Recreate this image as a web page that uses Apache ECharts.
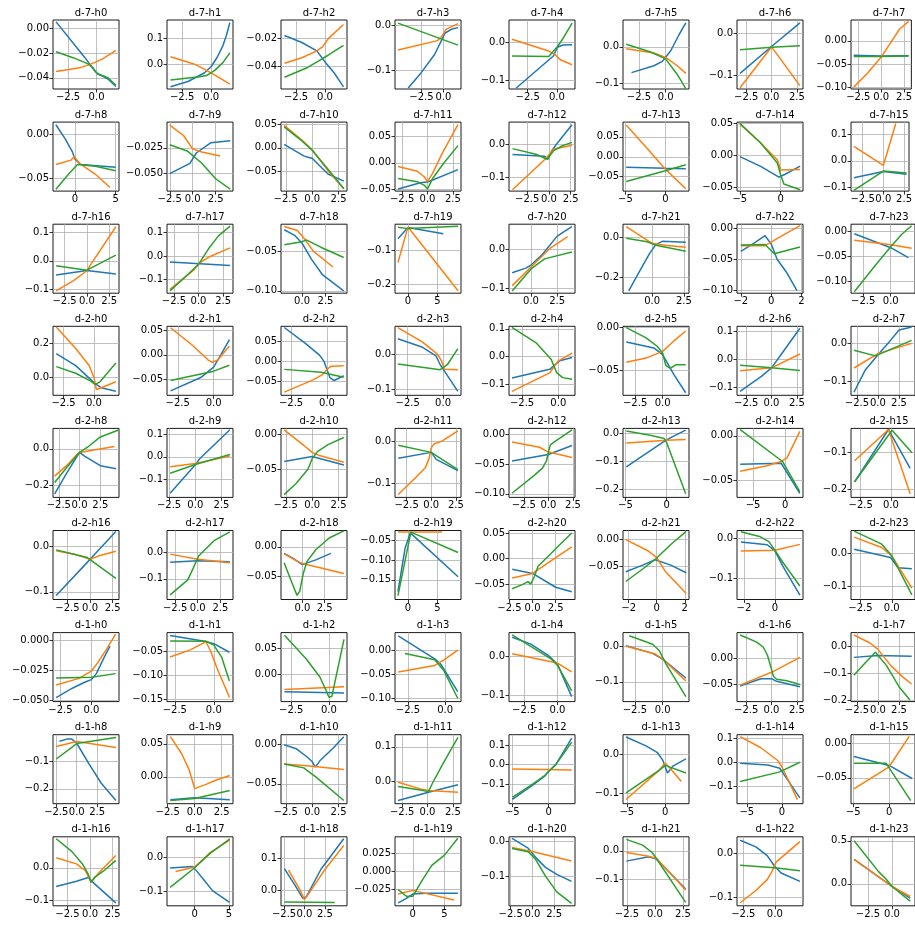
<!DOCTYPE html>
<html>
<head>
<meta charset="utf-8">
<script src="https://cdn.jsdelivr.net/npm/echarts@6/dist/echarts.min.js"></script>
<style>
  html, body { margin: 0; padding: 0; background: #fff; }
  #chart { width: 915px; height: 931px; }
</style>
</head>
<body>
<div id="chart"></div>
<script>
// Panel names: depth group x horizon (24 horizons per depth)
const depthGroups = ['d-7', 'd-2', 'd-1'];
const horizonCount = 24;

// Axis limits per panel [min, max]
const xLimits = [
  [-3.82,1.97],[-3.8,1.87],[-3.8,1.9],[-5.5,2.0],[-4.1,1.55],[-4.0,2.2],[-3.4,3.1],[-3.3,3.3],
  [-2.7,5.4],[-2.8,4.4],[-2.95,3.3],[-3.2,3.3],[-4.6,3.0],[-5.3,2.95],[-5.35,2.75],[-3.9,3.1],
  [-3.8,3.6],[-3.2,3.5],[-2.25,4.8],[-2.2,9.0],[-2.1,4.2],[-2.3,2.9],[-2.25,2.1],[-3.6,2.2],
  [-3.37,2.06],[-3.25,1.35],[-3.2,1.4],[-3.4,1.27],[-3.4,1.15],[-3.6,2.4],[-3.4,3.1],[-3.2,4.4],
  [-3.2,4.75],[-2.7,3.6],[-2.95,3.3],[-3.68,3.02],[-4.0,2.7],[-5.3,2.7],[-7.5,2.8],[-3.3,2.0],
  [-4.1,3.2],[-3.4,3.9],[-2.4,5.0],[-2.2,9.0],[-2.55,4.6],[-2.4,2.3],[-2.45,1.8],[-3.25,1.85],
  [-3.1,2.23],[-3.0,1.23],[-3.18,1.2],[-3.37,1.07],[-3.64,1.31],[-3.57,2.38],[-3.4,3.1],[-3.2,4.4],
  [-2.9,5.17],[-2.56,3.55],[-2.95,3.3],[-3.2,3.3],[-5.46,3.65],[-5.5,3.1],[-6.4,3.0],[-5.3,3.6],
  [-4.1,3.2],[-4.05,5.6],[-2.87,5.2],[-2.8,7.6],[-2.7,4.9],[-2.85,3.05],[-3.0,2.24],[-4.27,2.4]
];
const yLimits = [
  [-0.049,0.0065],[-0.097,0.17],[-0.0565,-0.0068],[-0.142,0.012],[-0.122,0.06],[-0.116,0.074],[-0.133,0.031],[-0.104,0.045],
  [-0.064,0.014],[-0.067,0.0],[-0.091,0.054],[-0.054,0.078],[-0.141,0.067],[-0.086,0.087],[-0.056,0.052],[-0.113,0.145],
  [-0.114,0.129],[-0.158,0.136],[-0.103,-0.016],[-0.225,-0.022],[-0.113,0.066],[-0.28,0.066],[-0.104,0.0064],[-0.123,0.015],
  [-0.104,0.3],[-0.082,0.058],[-0.085,0.088],[-0.116,0.078],[-0.141,0.109],[-0.08,0.0016],[-0.127,0.117],[-0.137,0.045],
  [-0.267,0.112],[-0.18,0.126],[-0.09,0.008],[-0.135,0.032],[-0.106,0.0096],[-0.228,0.016],[-0.0695,0.0083],[-0.223,-0.033],
  [-0.117,0.036],[-0.177,0.08],[-0.089,0.0276],[-0.2,-0.024],[-0.08,0.055],[-0.111,0.0156],[-0.154,0.02],[-0.139,0.068],
  [-0.0514,0.0063],[-0.155,-0.011],[-0.0525,0.081],[-0.107,0.038],[-0.117,0.062],[-0.156,0.04],[-0.082,0.0475],[-0.206,0.053],
  [-0.254,-0.004],[-0.041,0.064],[-0.075,0.0117],[-0.065,0.135],[-0.2,0.153],[-0.128,0.052],[-0.172,0.114],[-0.0875,0.0125],
  [-0.118,0.096],[-0.143,0.062],[-0.047,0.166],[-0.047,0.047],[-0.185,0.0125],[-0.192,0.049],[-0.12,0.038],[-0.254,0.546]
];

// Tick values per panel
const xTickValues = [
  [-2.5,0],[-2.5,0],[-2.5,0],[-2.5,0],[-2.5,0],[-2.5,0],[-2.5,0,2.5],[-2.5,0,2.5],
  [0,5],[-2.5,0,2.5],[-2.5,0,2.5],[-2.5,0,2.5],[-2.5,0,2.5],[-5,0],[-5,0],[-2.5,0,2.5],
  [-2.5,0,2.5],[-2.5,0,2.5],[0,2.5],[0,5],[0,2.5],[0,2.5],[-2,0,2],[-2.5,0],
  [-2.5,0],[-2.5,0],[-2.5,0],[-2.5,0],[-2.5,0],[-2.5,0],[-2.5,0,2.5],[-2.5,0,2.5],
  [-2.5,0,2.5],[-2.5,0,2.5],[-2.5,0,2.5],[-2.5,0,2.5],[-2.5,0,2.5],[-5,0],[-5,0],[-2.5,0],
  [-2.5,0,2.5],[-2.5,0,2.5],[0,2.5],[0,5],[-2.5,0,2.5],[-2,0,2],[-2,0],[-2.5,0],
  [-2.5,0],[-2.5,0],[-2.5,0],[-2.5,0],[-2.5,0],[-2.5,0],[-2.5,0,2.5],[-2.5,0,2.5],
  [-2.5,0,2.5],[-2.5,0,2.5],[-2.5,0,2.5],[-2.5,0,2.5],[-5,0],[-5,0],[-5,0],[-5,0],
  [-2.5,0,2.5],[0,5],[-2.5,0,2.5],[0,5],[-2.5,0,2.5],[-2.5,0,2.5],[-2.5,0],[-2.5,0]
];
const yTickValues = [
  [-0.04,-0.02,0],[0,0.1],[-0.04,-0.02],[-0.1,0],[-0.1,0],[-0.1,0],[-0.1,0],[-0.1,-0.05,0],
  [-0.05,0],[-0.05,-0.025],[-0.05,0,0.05],[-0.05,0,0.05],[-0.1,0],[-0.05,0,0.05],[-0.05,0,0.05],[-0.1,0,0.1],
  [-0.1,0,0.1],[-0.1,0,0.1],[-0.1,-0.05],[-0.2,-0.1],[-0.1,0],[-0.2,0],[-0.1,-0.05,0],[-0.1,-0.05,0],
  [0,0.2],[-0.05,0,0.05],[-0.05,0,0.05],[-0.1,0],[-0.1,0,0.1],[-0.05,0],[-0.1,0,0.1],[-0.1,0],
  [-0.2,0],[-0.1,0,0.1],[-0.05,0],[-0.1,0],[-0.1,-0.05,0],[-0.2,-0.1,0],[-0.05,0],[-0.2,-0.1],
  [-0.1,0],[-0.1,0],[-0.05,0],[-0.15,-0.1,-0.05],[-0.05,0,0.05],[-0.05,0],[-0.1,0],[-0.1,0],
  [-0.05,-0.025,0],[-0.15,-0.1,-0.05],[0,0.05],[-0.1,-0.05,0],[-0.1,0],[-0.1,0],[-0.05,0],[-0.2,-0.1,0],
  [-0.2,-0.1],[0,0.05],[-0.05,0],[0,0.1],[-0.1,0,0.1],[-0.1,0],[-0.1,0,0.1],[-0.05,0],
  [-0.1,0],[-0.1,0],[0,0.1],[-0.025,0,0.025],[-0.1,0],[-0.1,0],[-0.1,0],[0,0.5]
];

// Series values per panel, [x, y] points
const blueLines = [
  [[-3.55,0.005],[-1.0,-0.024],[-0.6,-0.029],[-0.2,-0.034],[0.1,-0.037],[0.6,-0.039],[1.0,-0.041],[1.7,-0.047]],
  [[-3.5,-0.088],[-2,-0.068],[-0.6,-0.035],[0,-0.01],[0.5,0.025],[1.0,0.07],[1.3,0.11],[1.6,0.16]],
  [[-3.5,-0.018],[-2,-0.023],[-0.7,-0.029],[0,-0.037],[0.8,-0.045],[1.6,-0.055]],
  [[-4.0,-0.14],[-2.5,-0.105],[-1.0,-0.065],[-0.2,-0.033],[0.2,-0.017],[1.0,-0.008],[1.66,-0.005]],
  [[-3.5,-0.12],[-0.95,-0.052],[-0.3,-0.035],[0.05,-0.012],[0.5,-0.006],[1.3,-0.005]],
  [[-3.2,-0.071],[-1.1,-0.052],[-0.3,-0.04],[0.5,-0.01],[1.2,0.03],[1.9,0.066]],
  [[-3.1,-0.096],[0,-0.032],[2.8,0.024]],
  [[-3,-0.031],[0,-0.033],[3,-0.032]],
  [[-2.35,0.011],[-1.2,-0.005],[-0.3,-0.02],[0,-0.028],[0.7,-0.034],[5,-0.037]],
  [[-2.5,-0.05],[-0.3,-0.04],[0.4,-0.03],[2,-0.02],[4.1,-0.018]],
  [[-2.65,0.007],[-0.8,-0.017],[-0.4,-0.02],[0,-0.022],[1.5,-0.055],[3.0,-0.07]],
  [[-2.9,-0.05],[-0.7,-0.038],[0.1,-0.036],[3,-0.013]],
  [[-4.2,-0.031],[-0.5,-0.036],[-0.1,-0.045],[0.3,-0.02],[1,0.005],[2.65,0.059]],
  [[-4.9,-0.026],[0,-0.029],[2.55,-0.03]],
  [[-5,-0.002],[-2.5,-0.017],[-0.2,-0.034],[0.5,-0.03],[2.4,-0.017]],
  [[-3.55,-0.063],[0,-0.04],[2.8,-0.05]],
  [[-3.45,-0.05],[0,-0.034],[3.25,-0.046]],
  [[-2.9,-0.025],[3.2,-0.04]],
  [[-1.9,-0.023],[-0.8,-0.03],[0,-0.04],[1,-0.06],[2.2,-0.08],[4.45,-0.1]],
  [[-1.7,-0.065],[0,-0.032],[6,-0.05]],
  [[-1.8,-0.06],[-0.5,-0.048],[0,-0.04],[1,-0.015],[2.5,0.035],[3.9,0.06]],
  [[-1.85,-0.268],[-1,-0.17],[-0.2,-0.08],[0.3,-0.035],[0.8,-0.02],[2.65,-0.025]],
  [[-2,-0.037],[-1.2,-0.025],[-0.4,-0.012],[0,-0.025],[0.4,-0.05],[1.0,-0.07],[1.7,-0.1]],
  [[-3.3,-0.004],[0,-0.032],[1.6,-0.052]],
  [[-3.1,0.14],[-1.5,0.07],[0,-0.03],[0.6,-0.06],[1.8,-0.08]],
  [[-3.0,-0.073],[-0.9,-0.046],[0,-0.025],[0.5,0.0],[1.1,0.031]],
  [[-2.97,0.085],[-1.5,0.045],[-0.5,0.015],[-0.2,0.0],[0.2,-0.04],[0.5,-0.048],[1.17,-0.036]],
  [[-3.2,0.043],[-1.5,0.02],[-0.5,-0.005],[-0.2,-0.03],[0.3,-0.06],[1.05,-0.105]],
  [[-3.2,-0.078],[-0.6,-0.047],[0.1,-0.016],[0.95,-0.004]],
  [[-3.3,-0.017],[-0.8,-0.024],[0,-0.032],[1,-0.055],[2.1,-0.077]],
  [[-3.1,-0.113],[-1,-0.06],[0,-0.03],[1,0.02],[2.8,0.11]],
  [[-2.85,-0.129],[-1.5,-0.07],[0,-0.03],[1.2,0.0],[2.5,0.035],[4.0,0.043]],
  [[-3.0,-0.247],[-1.5,-0.13],[0,-0.02],[0.6,-0.04],[2.5,-0.093],[4.4,-0.11]],
  [[-2.4,-0.162],[0,-0.035],[0.4,-0.01],[3.3,0.12]],
  [[-2.65,-0.039],[0,-0.032],[3.0,-0.044]],
  [[-3.35,-0.04],[0,-0.026],[0.5,-0.043],[2.7,-0.07]],
  [[-3.7,-0.045],[0,-0.034],[2.4,-0.019]],
  [[-4.9,-0.12],[-0.4,-0.032],[0.6,-0.015],[2.3,0.01]],
  [[-7.0,-0.032],[-0.6,-0.031],[2.3,-0.065]],
  [[-3,-0.18],[-0.2,-0.036],[1.6,-0.143]],
  [[-3.75,-0.108],[0,-0.028],[2.85,0.034]],
  [[-3.05,-0.038],[0,-0.033],[3.55,-0.036]],
  [[-2.05,-0.011],[-1,-0.02],[0,-0.03],[1.5,-0.022],[3.2,-0.011]],
  [[-1.7,-0.18],[-0.5,-0.07],[0.4,-0.03],[8.5,-0.142]],
  [[-2.2,-0.021],[0,-0.029],[2.5,-0.056],[4.25,-0.065]],
  [[-2.2,-0.06],[-1,-0.048],[-0.1,-0.038],[1,-0.048],[2.1,-0.062]],
  [[-2.2,-0.009],[-0.5,-0.016],[0,-0.032],[0.5,-0.07],[1.6,-0.143]],
  [[-3,0.012],[-0.1,-0.013],[0.5,-0.044],[1.6,-0.047]],
  [[-2.85,-0.048],[-1.5,-0.04],[-0.5,-0.035],[0,-0.033],[0.4,-0.028],[1.0,-0.015],[1.5,-0.005]],
  [[-2.8,-0.017],[-0.6,-0.029],[0,-0.034],[1,-0.052]],
  [[-2.95,-0.0335],[1,-0.036]],
  [[-3.15,0.031],[-0.7,-0.017],[-0.3,-0.028],[0.85,-0.086]],
  [[-3.4,0.05],[-2,0.032],[-0.7,0.003],[0,-0.02],[0.5,-0.06],[1.06,-0.104]],
  [[-3.3,0.003],[-0.9,-0.019],[0,-0.035],[2.1,-0.089]],
  [[-3.1,-0.053],[-1.5,-0.042],[-1,-0.039],[0,-0.039],[0.5,-0.044],[2.8,-0.054]],
  [[-2.85,-0.04],[0,-0.033],[4,-0.036]],
  [[-2.1,-0.028],[-1.2,-0.02],[-0.6,-0.02],[0,-0.035],[1.5,-0.11],[3,-0.18],[4.8,-0.242]],
  [[-2.25,-0.035],[0,-0.032],[3.25,-0.035]],
  [[-2.65,-0.001],[-1.5,-0.006],[-0.5,-0.016],[0,-0.022],[0.3,-0.029],[0.8,-0.02],[2,-0.005],[3,0.009]],
  [[-2.9,-0.056],[0.1,-0.032],[3.0,-0.01]],
  [[-5,-0.178],[-2,-0.1],[-0.5,-0.058],[0,-0.035],[1,0.0],[3.2,0.135]],
  [[-5.1,0.046],[-2.5,0.023],[-1,0.005],[-0.3,-0.015],[0.3,-0.048],[1,-0.03],[2.7,-0.011]],
  [[-5.95,-0.004],[-2,-0.012],[-0.3,-0.025],[0.5,-0.06],[2.55,-0.148]],
  [[-4.9,-0.019],[0,-0.032],[3.2,-0.051]],
  [[-3.75,-0.058],[-1.5,-0.042],[-0.2,-0.03],[0.5,-0.05],[2.85,-0.109]],
  [[-3.6,-0.031],[-0.3,-0.026],[0.3,-0.04],[1.5,-0.07],[2.6,-0.098],[5.1,-0.133]],
  [[-2.45,0.068],[-1,0.01],[-0.2,-0.024],[0.2,-0.02],[2,0.065],[4.8,0.16]],
  [[-2.3,-0.043],[-1,-0.037],[0,-0.031],[2,-0.03],[7.1,-0.03]],
  [[-2.35,0.008],[-0.5,-0.02],[0.5,-0.05],[1.5,-0.075],[2.8,-0.095],[4.5,-0.115]],
  [[-2.55,-0.036],[-0.55,-0.021],[0.15,-0.029],[2.75,-0.133]],
  [[-2.75,0.03],[-1.5,0.015],[-0.6,-0.005],[0,-0.03],[0.5,-0.045],[2,-0.064]],
  [[-3.95,0.285],[0,-0.03],[1.9,-0.165]]
];
const orangeLines = [
  [[-3.55,-0.035],[-1.5,-0.032],[-0.5,-0.029],[0.5,-0.025],[1.7,-0.018]],
  [[-3.5,0.028],[-1.5,0.0],[-0.6,-0.02],[0.5,-0.048],[1.6,-0.078]],
  [[-3.5,-0.038],[-2,-0.034],[-0.7,-0.029],[-0.2,-0.026],[0.3,-0.02],[1.6,-0.01]],
  [[-5.16,-0.055],[-0.67,-0.034],[-0.2,-0.025],[0.3,-0.009],[1.66,0.004]],
  [[-3.85,0.009],[-0.7,-0.022],[-0.2,-0.03],[0.3,-0.045],[1.3,-0.058]],
  [[-3.7,-0.005],[-1.1,-0.017],[0,-0.029],[1.1,-0.052],[1.9,-0.073]],
  [[-3.1,-0.13],[0,-0.033],[2.8,-0.125]],
  [[-3.0,-0.1],[-1.5,-0.07],[0,-0.035],[1.0,-0.005],[2.0,0.025],[3.0,0.042]],
  [[-2.35,-0.034],[-0.5,-0.029],[-0.1,-0.025],[0.6,-0.033],[2.5,-0.045],[4.3,-0.06]],
  [[-2.5,-0.003],[-1,-0.013],[0,-0.026],[1,-0.029],[3,-0.033]],
  [[-2.65,0.047],[-1,0.017],[0,-0.004],[1.5,-0.048],[3.0,-0.086]],
  [[-2.9,-0.007],[-1.0,-0.016],[-0.3,-0.027],[0,-0.036],[0.5,-0.02],[1.5,0.02],[3.0,0.073]],
  [[-4.2,-0.137],[-0.3,-0.041],[0.5,-0.015],[2.65,-0.003]],
  [[-4.9,0.08],[-2.5,0.026],[0,-0.031],[2.55,-0.08]],
  [[-5,0.049],[-2.5,0.02],[-0.4,-0.007],[0,-0.023],[2.4,-0.022]],
  [[-3.55,0.054],[0,-0.017],[1.5,0.14]],
  [[-3.45,-0.106],[-1.5,-0.07],[0,-0.035],[0.5,-0.01],[3.25,0.12]],
  [[-2.9,-0.142],[-0.5,-0.06],[0,-0.032],[1,-0.005],[3.2,0.035]],
  [[-1.9,-0.019],[-0.5,-0.024],[0.3,-0.035],[1.2,-0.05],[3.3,-0.07]],
  [[-1.7,-0.135],[0,-0.03],[8.5,-0.218]],
  [[-1.8,-0.094],[0,-0.045],[1.8,0.003],[3.5,0.034]],
  [[-2.05,0.054],[-0.5,-0.01],[0,-0.03],[1,-0.04],[2.65,-0.05]],
  [[-2,-0.028],[-0.4,-0.028],[0.5,-0.015],[1.9,0.004]],
  [[-3.3,-0.017],[0,-0.026],[1.9,-0.033]],
  [[-3.1,0.296],[-1.5,0.17],[-0.4,0.07],[0,0.0],[0.2,-0.07],[0.6,-0.06],[1.8,-0.025]],
  [[-3.0,0.055],[-1.5,0.02],[-0.4,-0.01],[-0.1,-0.015],[0.3,-0.01],[1.1,0.018]],
  [[-2.97,-0.077],[-1.0,-0.047],[-0.3,-0.033],[0,-0.02],[0.3,-0.012],[1.17,-0.011]],
  [[-3.2,0.074],[-1.5,0.035],[-0.4,0.0],[-0.1,-0.02],[0.1,-0.043],[1.05,-0.044]],
  [[-3.2,-0.127],[-0.6,-0.06],[0,-0.016],[0.95,0.012]],
  [[-3.3,-0.041],[-1.5,-0.036],[0,-0.028],[1,-0.016],[2.1,-0.004]],
  [[-3.1,-0.04],[0,-0.03],[2.8,0.019]],
  [[-2.85,-0.065],[0,-0.027],[4,0.0]],
  [[-3,-0.15],[-1.5,-0.09],[-0.3,-0.03],[0,-0.02],[4.2,0.013]],
  [[-2.4,-0.044],[0,-0.03],[3.3,0.003]],
  [[-2.65,0.006],[-0.8,-0.016],[0,-0.026],[0.6,-0.03],[3.0,-0.04]],
  [[-3.35,-0.128],[-1.5,-0.085],[-0.6,-0.063],[-0.2,-0.04],[0,-0.015],[0.3,-0.005],[1.0,0.0],[2.7,0.026]],
  [[-3.7,-0.013],[-0.9,-0.022],[0,-0.03],[2.4,-0.039]],
  [[-4.9,-0.036],[0,-0.026],[2.3,-0.023]],
  [[-7,-0.04],[-3,-0.034],[-0.6,-0.029],[0.3,-0.025],[1.3,-0.01],[2.3,0.005]],
  [[-3,-0.122],[-0.2,-0.036],[1.6,-0.213]],
  [[-3.75,-0.009],[-1.5,-0.018],[0,-0.028],[1,-0.02],[2.85,-0.01]],
  [[-3.05,-0.008],[0,-0.027],[3.55,-0.04]],
  [[-2.05,-0.012],[-0.5,-0.025],[0,-0.028],[4.65,-0.045]],
  [[-1.7,-0.028],[5.8,-0.028]],
  [[-2.2,-0.038],[0,-0.029],[1.8,-0.007],[4.25,0.023]],
  [[-2.2,-0.001],[-0.6,-0.022],[0,-0.034],[0.6,-0.059],[2.1,-0.1]],
  [[-2.2,-0.032],[0,-0.03],[1.6,-0.015]],
  [[-3,0.048],[-0.8,0.017],[0,-0.008],[1.6,-0.105]],
  [[-2.85,-0.0375],[-1,-0.032],[0,-0.026],[0.5,-0.019],[1.2,-0.008],[1.96,0.005]],
  [[-2.8,-0.062],[-1.5,-0.047],[-0.5,-0.03],[-0.2,-0.05],[0.2,-0.085],[1,-0.146]],
  [[-2.95,-0.029],[1,-0.024]],
  [[-3.15,-0.045],[-0.7,-0.031],[-0.1,-0.02],[0.85,0.001]],
  [[-3.4,0.007],[0,-0.017],[1.06,-0.04]],
  [[-3.3,0.001],[-0.65,-0.021],[0,-0.035],[2.1,-0.097]],
  [[-3.1,-0.051],[0,-0.027],[2.8,0.001]],
  [[-2.85,0.044],[-1,0.015],[0,-0.01],[1.5,-0.07],[3,-0.115],[4,-0.14]],
  [[-2.5,-0.047],[0,-0.029],[4.8,-0.05]],
  [[-2.25,0.061],[-1.2,0.035],[-0.5,0.01],[0,-0.018],[1,-0.012],[2,-0.005],[3.25,0.002]],
  [[-2.65,-0.025],[0,-0.028],[3,-0.032]],
  [[-2.9,-0.003],[-0.7,-0.022],[0.1,-0.027],[3,-0.032]],
  [[-5,-0.022],[3.2,-0.027]],
  [[-5.1,-0.117],[-0.8,-0.041],[0,-0.022],[0.7,-0.037],[2.1,-0.07]],
  [[-5.95,0.106],[-3,0.06],[-0.6,0.007],[0,-0.02],[1,-0.08],[2.2,-0.155]],
  [[-4.9,-0.066],[0,-0.034],[2.8,0.01]],
  [[-3.75,0.031],[-1.5,0.012],[-0.5,-0.01],[0.1,-0.045],[1,-0.015],[2.85,0.038]],
  [[-2.8,-0.041],[0,-0.028],[2.2,0.014],[5.1,0.052]],
  [[-1.95,0.063],[-0.5,0.0],[0,-0.028],[0.5,-0.01],[2.5,0.065],[4.8,0.139]],
  [[-2.3,-0.031],[0,-0.026],[6.5,-0.039]],
  [[-2.35,-0.018],[0.2,-0.031],[4.5,-0.057]],
  [[-2.55,-0.006],[-0.55,-0.019],[0.15,-0.027],[2.75,-0.137]],
  [[-2.75,-0.113],[-1.5,-0.085],[-0.6,-0.06],[-0.2,-0.04],[0.1,-0.02],[0.7,-0.005],[2,0.027]],
  [[-3.95,0.285],[0,-0.03],[1.9,-0.146]]
];
const greenLines = [
  [[-3.55,-0.019],[-2.0,-0.024],[-0.7,-0.029],[-0.3,-0.032],[0,-0.036],[0.5,-0.038],[1.0,-0.04],[1.7,-0.046]],
  [[-3.5,-0.062],[-1,-0.05],[-0.4,-0.045],[0.3,-0.025],[1.0,0.005],[1.6,0.043]],
  [[-3.5,-0.048],[-1.5,-0.041],[-0.5,-0.036],[0.3,-0.032],[1.6,-0.025]],
  [[-5.16,0.005],[1.66,-0.044]],
  [[-3.85,-0.035],[-0.7,-0.036],[0.05,-0.01],[0.5,0.01],[1.3,0.052]],
  [[-3.7,0.007],[-1.4,-0.014],[0,-0.033],[1.1,-0.076],[1.9,-0.115]],
  [[-3.1,-0.04],[0,-0.034],[2.8,-0.03]],
  [[-3,-0.034],[0,-0.034],[3,-0.033]],
  [[-2.35,-0.062],[-0.8,-0.045],[0.3,-0.034],[2.5,-0.036],[5,-0.041]],
  [[-2.5,-0.022],[-0.6,-0.028],[1,-0.04],[2.5,-0.055],[4.1,-0.065]],
  [[-2.65,0.044],[-1,0.015],[0,-0.005],[1.5,-0.045],[3.0,-0.086]],
  [[-2.9,-0.03],[-1,-0.036],[-0.3,-0.043],[0,-0.05],[0.5,-0.03],[1.5,-0.003],[3.0,0.033]],
  [[-4.2,-0.013],[-1.5,-0.03],[-0.2,-0.045],[0.5,-0.02],[1.5,-0.005],[2.65,0.006]],
  [[-4.9,-0.062],[0,-0.035],[2.55,-0.02]],
  [[-5,0.05],[-2.5,0.02],[-0.4,-0.012],[0,-0.03],[0.4,-0.045],[2.4,-0.054]],
  [[-3.55,-0.11],[0,-0.038],[2.8,-0.045]],
  [[-3.45,-0.017],[0,-0.033],[3.25,0.02]],
  [[-2.9,-0.148],[-1,-0.075],[0,-0.035],[1,0.03],[2,0.085],[3.2,0.128]],
  [[-1.9,-0.042],[0,-0.038],[0.5,-0.036],[2,-0.045],[4.45,-0.058]],
  [[-1.7,-0.031],[0,-0.035],[8.5,-0.028]],
  [[-1.8,-0.107],[0,-0.05],[1.3,-0.024],[3.9,-0.006]],
  [[-2.05,-0.005],[-0.4,-0.022],[0.3,-0.04],[2.65,-0.07]],
  [[-2,-0.027],[-0.4,-0.026],[0.2,-0.041],[1.9,-0.03]],
  [[-3.3,-0.12],[-1.5,-0.07],[0,-0.03],[1,-0.005],[1.9,0.012]],
  [[-3.1,0.064],[-1.5,0.025],[-0.3,-0.02],[0.1,-0.04],[0.5,-0.025],[1.8,0.085]],
  [[-3.0,-0.052],[0,-0.033],[1.1,-0.021]],
  [[-2.97,-0.02],[-0.4,-0.027],[1.17,-0.04]],
  [[-3.2,-0.028],[-1.5,-0.037],[-0.2,-0.044],[0.3,-0.03],[1.05,0.015]],
  [[-3.2,0.105],[-1.5,0.048],[-0.5,-0.01],[-0.1,-0.06],[0.3,-0.077],[0.95,-0.083]],
  [[-3.3,0.0],[-1.5,-0.012],[-0.5,-0.022],[0,-0.03],[0.3,-0.045],[0.7,-0.048],[1.2,-0.044],[2.1,-0.044]],
  [[-3.1,-0.021],[0,-0.03],[2.8,-0.039]],
  [[-2.85,-0.018],[-0.3,-0.033],[4,0.008]],
  [[-3,-0.185],[-1.5,-0.1],[0,-0.02],[1,0.01],[2.5,0.065],[4.7,0.103]],
  [[-2.4,-0.073],[0,-0.034],[3.3,0.01]],
  [[-2.65,-0.086],[-1.5,-0.07],[-0.4,-0.05],[0,-0.035],[0.5,-0.025],[1.5,-0.015],[3.0,-0.005]],
  [[-3.35,-0.009],[0,-0.026],[2.7,-0.068]],
  [[-3.7,-0.099],[-1.5,-0.07],[-0.6,-0.057],[-0.2,-0.045],[0,-0.03],[0.2,-0.018],[0.6,-0.013],[2.4,0.007]],
  [[-4.9,0.007],[-2,-0.008],[-0.3,-0.02],[0,-0.035],[2.3,-0.215]],
  [[-7.0,0.007],[-0.4,-0.029],[2.3,-0.063]],
  [[-3,-0.18],[0.1,-0.038],[1.75,-0.1]],
  [[-3.75,-0.007],[-0.3,-0.024],[2.85,-0.07]],
  [[-3.05,-0.16],[-1.1,-0.104],[-0.5,-0.06],[0.1,-0.015],[1.8,0.042],[3.55,0.075]],
  [[-2.05,-0.027],[-1.2,-0.06],[-0.6,-0.082],[-0.3,-0.075],[0.1,-0.045],[0.5,-0.025],[1.5,-0.005],[3,0.015],[4.65,0.027]],
  [[-1.7,-0.19],[0.5,-0.028],[8.5,-0.08]],
  [[-2.2,-0.059],[-1,-0.05],[-0.5,-0.045],[-0.2,-0.05],[0.2,-0.035],[0.6,-0.015],[2,0.01],[3,0.028],[4.25,0.05]],
  [[-2.2,-0.078],[-1,-0.055],[0,-0.035],[1,-0.01],[2.1,0.014]],
  [[-2.2,0.017],[-1,0.005],[-0.4,-0.008],[0,-0.03],[0.5,-0.06],[1.6,-0.12]],
  [[-3,0.066],[-0.8,0.027],[-0.1,-0.003],[0.3,-0.03],[1.6,-0.125]],
  [[-2.85,-0.0316],[0,-0.031],[1.96,-0.028]],
  [[-2.8,-0.0285],[-0.5,-0.029],[0,-0.037],[0.5,-0.062],[1,-0.112]],
  [[-2.95,0.076],[-1.5,0.03],[-0.6,-0.005],[-0.2,-0.03],[0,-0.044],[0.2,-0.042],[1.0,0.068]],
  [[-2.7,-0.006],[-0.7,-0.019],[-0.1,-0.041],[0.85,-0.1]],
  [[-3.4,0.056],[-0.5,-0.006],[0,-0.023],[1.06,-0.089]],
  [[-3.0,0.031],[-0.9,0.007],[-0.3,-0.011],[0.3,-0.049],[2.1,-0.142]],
  [[-3.1,0.043],[-1.5,0.03],[-0.8,0.02],[-0.4,0.005],[-0.1,-0.015],[0.2,-0.035],[0.5,-0.04],[1.5,-0.043],[2.8,-0.05]],
  [[-2.85,-0.107],[-1.5,-0.06],[-0.3,-0.021],[1,-0.07],[2.5,-0.15],[3.8,-0.2]],
  [[-2.5,-0.092],[0,-0.036],[4.8,-0.014]],
  [[-2.25,-0.036],[0,-0.033],[3.25,-0.021]],
  [[-2.65,-0.025],[-0.8,-0.03],[0.4,-0.042],[3,-0.071]],
  [[-2.9,-0.015],[-0.7,-0.025],[0.1,-0.03],[0.5,-0.005],[1.5,0.05],[3,0.127]],
  [[-5,-0.168],[-2,-0.095],[-0.5,-0.055],[0,-0.035],[1,0.0],[3.2,0.115]],
  [[-5.1,-0.1],[-0.8,-0.041],[0,-0.028],[2.7,-0.048]],
  [[-5.95,-0.08],[-0.3,-0.04],[2.55,0.0]],
  [[-4.9,-0.029],[-0.4,-0.029],[3,-0.083]],
  [[-3.75,0.09],[-2,0.05],[-0.8,0.01],[-0.2,-0.02],[0.1,-0.045],[0.5,-0.03],[1.5,-0.01],[2.85,0.023]],
  [[-3.6,-0.088],[0,-0.03],[2.2,0.012],[5.1,0.055]],
  [[-2.45,-0.035],[3.7,-0.037]],
  [[-2.3,-0.025],[-1,-0.034],[0,-0.034],[1.5,-0.012],[3,0.008],[5,0.022],[7.1,0.045]],
  [[-2.35,-0.021],[-0.5,-0.03],[0.3,-0.05],[1.5,-0.1],[2.8,-0.145],[4.5,-0.178]],
  [[-2.55,0.04],[-1.1,0.02],[-0.3,-0.004],[0,-0.019],[2.75,-0.18]],
  [[-2.75,-0.027],[0,-0.033],[2,-0.04]],
  [[-3.95,0.5],[-1.4,0.142],[-0.6,0.054],[0,-0.03],[1.9,-0.2]]
];

// ---- layout and styling ----
const COLS = 8;
const LEFT0 = 53, COL_STEP = 114, PLOT_W = 66;
const TOP0 = 20, ROW_STEP = 102.1, PLOT_H = 69;
const FONT = 'DejaVu Sans';
const lineColors = ['#1f77b4', '#ff7f0e', '#2ca02c'];

function decimalsOf(values) {
  return Math.max(0, ...values.map(v => {
    const s = String(v);
    const i = s.indexOf('.');
    return i < 0 ? 0 : s.length - i - 1;
  }));
}
function formatTick(v, dec) {
  const s = Math.abs(v).toFixed(dec);
  return (v < 0 && Number(s) !== 0 ? '\u2212' : '') + s;
}

const panelNames = [];
depthGroups.forEach(d => {
  for (let h = 0; h < horizonCount; h++) panelNames.push(d + '-h' + h);
});

const grids = [], xAxes = [], yAxes = [], titles = [], series = [];
panelNames.forEach((name, i) => {
  const r = Math.floor(i / COLS), c = i % COLS;
  const left = LEFT0 + COL_STEP * c;
  const top = TOP0 + ROW_STEP * r;
  grids.push({
    left: left, top: top, width: PLOT_W, height: PLOT_H,
    show: true, borderColor: '#000', borderWidth: 0.9,
    backgroundColor: 'transparent', containLabel: false
  });
  titles.push({
    text: name, left: left + PLOT_W / 2, top: top - 17, textAlign: 'center',
    textStyle: { fontFamily: FONT, fontSize: 10, fontWeight: 'normal', color: '#000' }
  });
  const xt = xTickValues[i], yt = yTickValues[i];
  const dx = decimalsOf(xt), dy = decimalsOf(yt);
  const axisCommon = {
    type: 'value',
    gridIndex: i,
    axisLine: { show: false, onZero: false },
    splitLine: { show: true, lineStyle: { color: '#b0b0b0', width: 0.8 } },
    splitArea: { show: false }
  };
  xAxes.push(Object.assign({}, axisCommon, {
    position: 'bottom',
    min: xLimits[i][0], max: xLimits[i][1],
    axisTick: { show: true, inside: false, length: 3.5, lineStyle: { color: '#000', width: 0.8 }, customValues: xt },
    axisLabel: {
      show: true, customValues: xt, margin: 3.5, hideOverlap: false,
      showMinLabel: true, showMaxLabel: true,
      fontFamily: FONT, fontSize: 10, color: '#000',
      formatter: v => formatTick(v, dx)
    }
  }));
  yAxes.push(Object.assign({}, axisCommon, {
    position: 'left',
    min: yLimits[i][0], max: yLimits[i][1],
    axisTick: { show: true, inside: false, length: 3.5, lineStyle: { color: '#000', width: 0.8 }, customValues: yt },
    axisLabel: {
      show: true, customValues: yt, margin: 4, hideOverlap: false,
      showMinLabel: true, showMaxLabel: true,
      fontFamily: FONT, fontSize: 10, color: '#000',
      formatter: v => formatTick(v, dy)
    }
  }));
  [blueLines[i], orangeLines[i], greenLines[i]].forEach((pts, k) => {
    series.push({
      type: 'line', xAxisIndex: i, yAxisIndex: i,
      data: pts, showSymbol: false, symbol: 'none', silent: true,
      clip: true,
      lineStyle: { color: lineColors[k], width: 1.5 },
      itemStyle: { color: lineColors[k] }
    });
  });
});

const chart = echarts.init(document.getElementById('chart'), null, { renderer: 'canvas' });
chart.setOption({
  backgroundColor: '#fff',
  animation: false,
  title: titles,
  grid: grids,
  xAxis: xAxes,
  yAxis: yAxes,
  series: series
});
</script>
</body>
</html>
